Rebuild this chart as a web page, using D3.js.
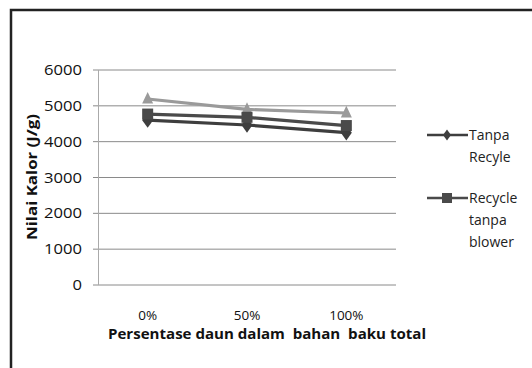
<!DOCTYPE html>
<html><head><meta charset="utf-8">
<script src="https://cdn.jsdelivr.net/npm/d3@7"></script>
<style>body{margin:0;background:#fff}svg{display:block}</style>
</head><body>
<svg id="c" width="532" height="368"></svg>
<script>
const categories = ["0%", "50%", "100%"];
const tanpaRecyle = [4600, 4465, 4250];
const recycleTanpaBlower = [4770, 4680, 4450];
const recycleBlower = [5190, 4900, 4800];
const yTicks = [0, 1000, 2000, 3000, 4000, 5000, 6000];
const seriesNames = ["Tanpa Recyle", "Recycle tanpa blower", "Recycle dengan blower"];

const svg = d3.select("#c");
const font = "'Open Sans', 'Liberation Sans', sans-serif";

// outer frame (only top and left visible)
svg.append("rect").attr("x", 11).attr("y", 10).attr("width", 560).attr("height", 400)
  .attr("fill", "#fff").attr("stroke", "#222").attr("stroke-width", 2.5);

const x = d3.scaleBand().domain(categories).range([98, 396]).padding(0);
const y = d3.scaleLinear().domain([0, 6000]).range([285, 70]);

// gridlines
svg.append("g").selectAll("line").data(yTicks).join("line")
  .attr("x1", 93).attr("x2", 396)
  .attr("y1", d => y(d)).attr("y2", d => y(d))
  .attr("stroke", "#8a8a8a").attr("stroke-width", 1);
// y axis line
svg.append("line").attr("x1", 98.5).attr("x2", 98.5).attr("y1", y(6000)).attr("y2", y(0))
  .attr("stroke", "#aaa").attr("stroke-width", 1);

// y tick labels
svg.append("g").selectAll("text").data(yTicks).join("text")
  .attr("x", 82).attr("y", d => y(d)).attr("dy", "0.36em")
  .attr("text-anchor", "end").attr("font-family", font).attr("font-size", 14)
  .attr("textLength", d => String(d).length * 9.5).attr("lengthAdjust", "spacingAndGlyphs")
  .attr("fill", "#111").text(d => d);

// x labels
svg.append("g").selectAll("text").data(categories).join("text")
  .attr("x", d => x(d) + x.bandwidth() / 2).attr("y", 320)
  .attr("text-anchor", "middle").attr("font-family", font).attr("font-size", 13.5)
  .attr("fill", "#111").text(d => d);

svg.append("text").attr("x", 108).attr("y", 339)
  .attr("font-family", font).attr("font-size", 14).attr("font-weight", "bold")
  .attr("fill", "#111")
  .style("white-space", "pre")
  .attr("textLength", 318).attr("lengthAdjust", "spacingAndGlyphs")
  .text("Persentase daun dalam  bahan  baku total");

svg.append("text").attr("transform", "translate(37,177) rotate(-90)")
  .attr("text-anchor", "middle").attr("font-family", font).attr("font-size", 14.5)
  .attr("font-weight", "bold").attr("fill", "#111")
  .attr("textLength", 126).attr("lengthAdjust", "spacingAndGlyphs")
  .text("Nilai Kalor (J/g)");

const cx = c => x(c) + x.bandwidth() / 2;
const line = d3.line().x((d, i) => cx(categories[i])).y(d => y(d));

const series = [
  {name: seriesNames[2], values: recycleBlower, color: "#9a9a9a", marker: "triangle"},
  {name: seriesNames[0], values: tanpaRecyle, color: "#3e3e3e", marker: "diamond"},
  {name: seriesNames[1], values: recycleTanpaBlower, color: "#4a4a4a", marker: "square"}
];

function drawMarker(g, type, px, py, color, s) {
  if (type === "square") {
    g.append("rect").attr("x", px - s).attr("y", py - s).attr("width", 2 * s).attr("height", 2 * s).attr("fill", color);
  } else if (type === "diamond") {
    g.append("path").attr("d", `M${px},${py - s * 1.4}L${px + s},${py}L${px},${py + s * 1.4}L${px - s},${py}Z`).attr("fill", color);
  } else {
    g.append("path").attr("d", `M${px},${py - s * 1.3}L${px + s},${py + s * 0.8}L${px - s},${py + s * 0.8}Z`).attr("fill", color);
  }
}

const plot = svg.append("g");
series.forEach(s => {
  plot.append("path").datum(s.values).attr("d", line).attr("fill", "none")
    .attr("stroke", s.color).attr("stroke-width", 3.2);
});
series.forEach(s => {
  s.values.forEach((v, i) => drawMarker(plot, s.marker, cx(categories[i]), y(v), s.color, 5.5));
});

// legend (two entries visible)
const legend = [
  {s: series[1], y: 135, lines: ["Tanpa", "Recyle"]},
  {s: series[2], y: 198, lines: ["Recycle", "tanpa", "blower"]}
];
legend.forEach(l => {
  svg.append("line").attr("x1", 427).attr("x2", 468).attr("y1", l.y).attr("y2", l.y)
    .attr("stroke", l.s.color).attr("stroke-width", 2.5);
  drawMarker(svg, l.s.marker, 447, l.y, l.s.color, l.s.marker === "square" ? 5 : 4);
  l.lines.forEach((t, i) => {
    svg.append("text").attr("x", 469).attr("y", l.y + i * 22).attr("dy", "0.36em")
      .attr("font-family", font).attr("font-size", 14).attr("fill", "#222").text(t);
  });
});
</script>
</body></html>
